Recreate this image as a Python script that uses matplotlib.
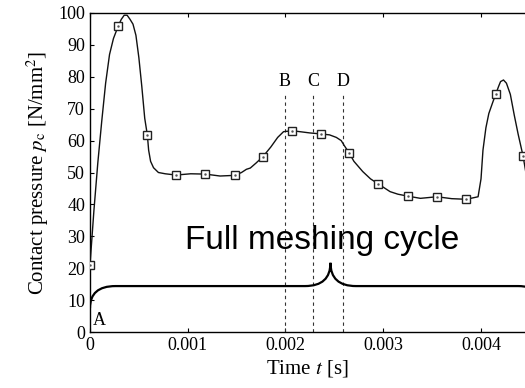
import matplotlib
matplotlib.use("Agg")
import matplotlib.pyplot as plt
from matplotlib.path import Path
from matplotlib.patches import PathPatch
import numpy as np

plt.rcParams['font.family'] = 'Liberation Serif'
plt.rcParams['mathtext.fontset'] = 'stix'

# contact pressure curve
t_curve = [0, 0.00004, 0.00008, 0.00012, 0.00016, 0.0002, 0.00024, 0.00029, 0.00032,
           0.00035, 0.00038, 0.00041, 0.00044, 0.00047, 0.0005, 0.00053, 0.00056,
           0.000587, 0.0006, 0.00062, 0.00065, 0.0007, 0.00077, 0.00088, 0.00103,
           0.00118, 0.00133, 0.00148, 0.00155, 0.0016, 0.00164, 0.0017, 0.00177,
           0.00185, 0.00192, 0.00198, 0.00207, 0.00225, 0.00236, 0.00245, 0.00252,
           0.00257, 0.0026, 0.00265, 0.0027, 0.00279, 0.00287, 0.00295, 0.00307,
           0.00315, 0.00325, 0.00338, 0.00355, 0.0037, 0.00385, 0.00397, 0.004,
           0.00402, 0.00405, 0.00408, 0.00412, 0.00415, 0.00418, 0.0042, 0.00423,
           0.00426, 0.0043, 0.00434, 0.00438, 0.00443, 0.00447]
p_curve = [21, 38, 53, 66, 78, 87, 92, 96, 98,
           99.3, 99.3, 98, 96.5, 93, 86, 77, 67,
           61.7, 57, 53.5, 51.5, 50, 49.6, 49.2, 49.6,
           49.5, 48.9, 49.1, 50, 51, 51.4, 53, 55,
           58, 61, 62.8, 63.1, 62.4, 62.1, 61.8, 61,
           60, 58.5, 56.2, 53.5, 50.3, 48, 46.4, 44,
           43.2, 42.6, 41.9, 42.4, 41.8, 41.6, 42.4, 48,
           57, 64, 68.5, 72, 74.5, 77, 78.5, 79,
           78, 74.5, 68, 62, 55.2, 48]

# square markers
t_mark = [0, 0.00029, 0.000587, 0.00088, 0.00118, 0.00148, 0.00177, 0.00207,
          0.00236, 0.00265, 0.00295, 0.00325, 0.00355, 0.00385, 0.00415, 0.00443]
p_mark = [21, 96, 61.7, 49.2, 49.5, 49.1, 55, 63.1,
          62.1, 56.2, 46.4, 42.6, 42.4, 41.6, 74.5, 55.2]

# instants B, C, D
event_t = [0.00199, 0.00228, 0.00259]
event_labels = ["B", "C", "D"]

xticks = [0, 0.001, 0.002, 0.003, 0.004]
xticklabels = ["0", "0.001", "0.002", "0.003", "0.004"]
yticks = list(range(0, 101, 10))

fig = plt.figure(figsize=(5.25, 3.88), dpi=100)
ax = fig.add_axes([0.1714, 0.1443, 0.8286, 0.8222])

ax.plot(t_curve, p_curve, '-', color='#111111', lw=1.0, zorder=3)
ax.plot(t_mark, p_mark, 's', ms=6, mfc='white', mec='#222222', mew=1.0, zorder=4)
ax.plot(t_mark, p_mark, '.', ms=1.5, color='#555555', zorder=5)

for tt, lab in zip(event_t, event_labels):
    ax.plot([tt, tt], [0, 74.5], color='#333333', lw=0.8, dashes=(3, 3), zorder=2)
    ax.text(tt, 78.5, lab, ha='center', va='center', fontsize=13)

ax.text(0.00003, 0.8, "A", ha='left', va='bottom', fontsize=13)

# curly brace for the meshing cycle
b0, b1, tip = 0.0, 0.00464, 0.00246
y_end, y_mid, y_tip = 7.5, 14.4, 21.7
r = 0.00026
verts = [(b0, y_end), (b0, y_mid), (b0 + r, y_mid),
         (tip - r, y_mid), (tip, y_mid), (tip, y_tip),
         (tip, y_mid), (tip + r, y_mid),
         (b1 - r, y_mid), (b1, y_mid), (b1, y_end)]
codes = [Path.MOVETO, Path.CURVE3, Path.CURVE3,
         Path.LINETO, Path.CURVE3, Path.CURVE3,
         Path.CURVE3, Path.CURVE3,
         Path.LINETO, Path.CURVE3, Path.CURVE3]
ax.add_patch(PathPatch(Path(verts, codes), fc='none', ec='black', lw=1.6, zorder=3))

ax.text(0.002375, 26, "Full meshing cycle", ha='center', va='baseline',
        fontsize=24, family='Liberation Sans')

ax.set_xlim(0, 0.00445)
ax.set_ylim(0, 100)
ax.set_xticks(xticks)
ax.set_xticklabels(xticklabels)
ax.set_yticks(yticks)
ax.tick_params(direction='in', length=3, labelsize=13, top=True, right=False, width=0.8)
ax.spines['right'].set_visible(False)
for s in ['left', 'bottom', 'top']:
    ax.spines[s].set_linewidth(1.0)

ax.set_xlabel("Time $t$ [s]", fontsize=15, labelpad=3)
ax.set_ylabel("Contact pressure $p_\\mathrm{c}$ [N/mm$^2$]", fontsize=15, labelpad=5)

plt.savefig("out.png", dpi=100)
